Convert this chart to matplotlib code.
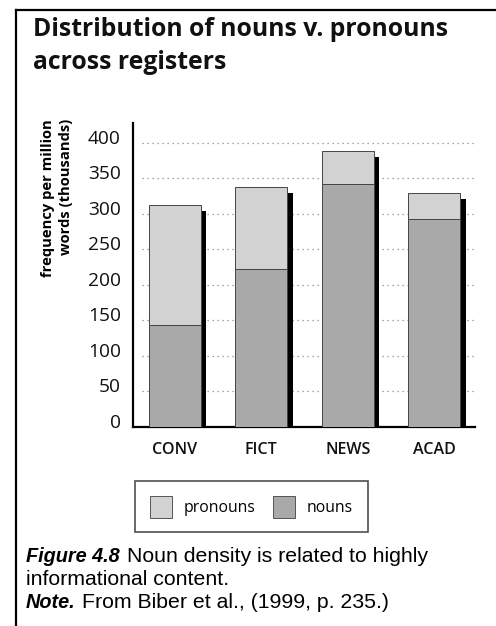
import matplotlib
matplotlib.use("Agg")
import matplotlib.pyplot as plt
from matplotlib.transforms import ScaledTranslation
from matplotlib.patches import Patch
from matplotlib.lines import Line2D

# Register frequencies per million words (thousands)
registers = ["CONV", "FICT", "NEWS", "ACAD"]
nouns = [144, 223, 342, 293]
totals = [313, 338, 389, 329]
pronouns = [t - n for t, n in zip(totals, nouns)]
y_ticks = [0, 50, 100, 150, 200, 250, 300, 350, 400]

W, H = 496, 626
DPI = 100
fig = plt.figure(figsize=(W / DPI, H / DPI), dpi=DPI)
fig.patch.set_facecolor("white")

def fx(px):
    return px / W

def fy(py):
    return 1 - py / H

# page frame: left and top rules
fig.add_artist(Line2D([fx(16), fx(16)], [fy(10), fy(626)], color="black", lw=1.6,
                      transform=fig.transFigure))
fig.add_artist(Line2D([fx(16), fx(496)], [fy(10), fy(10)], color="black", lw=1.6,
                      transform=fig.transFigure))

ax = fig.add_axes([fx(133.3), fy(427), fx(475) - fx(133.3), fy(123) - fy(427)])
ax.set_xlim(-0.48, 3.47)
ax.set_ylim(0, 428)

x = list(range(len(registers)))
bar_w = 0.6
PRON_C = "#d2d2d2"
NOUN_C = "#a9a9a9"

# drop shadows behind each full bar
shadow = ax.bar(x, totals, width=bar_w, color="black", zorder=2, linewidth=0)
off = ScaledTranslation(5.4 / DPI, -6 / DPI, fig.dpi_scale_trans)
for p in shadow:
    p.set_transform(ax.transData + off)

ax.bar(x, nouns, width=bar_w, color=NOUN_C, edgecolor="#444444", linewidth=0.7, zorder=3)
ax.bar(x, pronouns, bottom=nouns, width=bar_w, color=PRON_C, edgecolor="#444444",
       linewidth=0.7, zorder=3)

# dotted guide lines
for v in y_ticks[1:]:
    ax.axhline(v, xmin=0.025, xmax=1.0, color="#8a8a8a", lw=0.9,
               linestyle=(0, (1, 3)), zorder=1)

for s in ["top", "right"]:
    ax.spines[s].set_visible(False)
ax.spines["left"].set_linewidth(1.6)
ax.spines["bottom"].set_linewidth(1.6)

ax.set_yticks(y_ticks)
ax.set_yticklabels([str(v) for v in y_ticks], fontsize=13.8, family="Open Sans",
                   color="#111111")
ax.set_xticks(x)
ax.set_xticklabels(registers, fontsize=11.5, family="Open Sans", fontweight="semibold",
                   color="#111111")
ax.tick_params(axis="both", length=0)
ax.tick_params(axis="y", pad=9)
ax.tick_params(axis="x", pad=11)
lab_off = ScaledTranslation(0, 6 / DPI, fig.dpi_scale_trans)
for t in ax.get_yticklabels():
    t.set_transform(t.get_transform() + lab_off)

fig.text(fx(57), fy(198), "frequency per million\nwords (thousands)", rotation=90,
         ha="center", va="center", multialignment="right", fontsize=10.6,
         fontweight="bold", family="Open Sans", linespacing=1.35)

title_kw = dict(ha="left", va="baseline", fontsize=17.8, fontweight="bold",
                family="Open Sans", color="#111111")
fig.text(fx(33), fy(36), "Distribution of nouns v. pronouns", **title_kw)
fig.text(fx(33), fy(69), "across registers", **title_kw)

handles = [Patch(facecolor=PRON_C, edgecolor="#555555", lw=0.7, label="pronouns"),
           Patch(facecolor=NOUN_C, edgecolor="#555555", lw=0.7, label="nouns")]
leg = fig.legend(handles=handles, loc="center", bbox_to_anchor=(fx(251.3), fy(506.7)),
                 ncol=2, frameon=True, fancybox=False, edgecolor="#222222",
                 prop={"family": "Open Sans", "size": 11.3}, handlelength=1.4,
                 handleheight=1.75, handletextpad=0.75, columnspacing=1.1,
                 borderpad=0.95)
leg.get_frame().set_linewidth(1.2)

bold_kw = dict(fontsize=14.3, family="Liberation Sans", va="baseline", ha="left",
               fontweight="bold", style="italic")
reg_kw = dict(fontsize=15.3, family="Liberation Sans", va="baseline", ha="left")
fig.text(fx(26), fy(562), "Figure 4.8", **bold_kw)
fig.text(fx(127), fy(562), "Noun density is related to highly", **reg_kw)
fig.text(fx(26), fy(585), "informational content.", **reg_kw)
fig.text(fx(26), fy(608), "Note.", **bold_kw)
fig.text(fx(82), fy(608), "From Biber et al., (1999, p. 235.)", **reg_kw)

fig.savefig("out.png", dpi=DPI)
